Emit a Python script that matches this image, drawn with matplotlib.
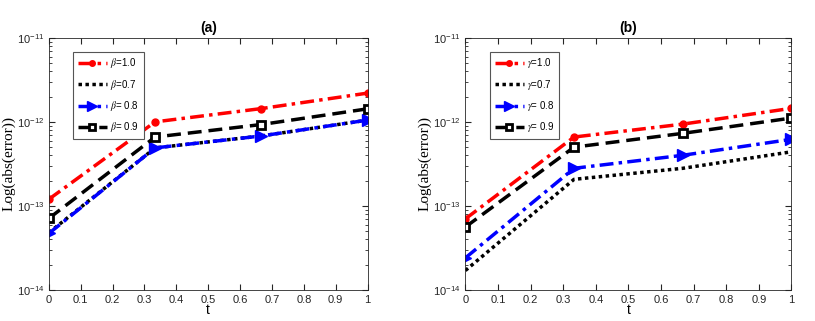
import numpy as np
import matplotlib.pyplot as plt
from matplotlib.ticker import FixedLocator, NullFormatter

t = [0, 1/3, 2/3, 1]

# panel (a): beta
beta_10 = [1.2e-13, 1.0e-12, 1.44e-12, 2.2e-12]
beta_07 = [4.8e-14, 4.9e-13, 6.8e-13, 1.05e-12]
beta_08 = [4.7e-14, 4.9e-13, 6.8e-13, 1.05e-12]
beta_09 = [7.1e-14, 6.6e-13, 9.3e-13, 1.43e-12]

# panel (b): gamma
gamma_10 = [7.0e-14, 6.6e-13, 9.4e-13, 1.45e-12]
gamma_07 = [1.7e-14, 2.07e-13, 2.8e-13, 4.4e-13]
gamma_08 = [2.4e-14, 2.8e-13, 4.0e-13, 6.2e-13]
gamma_09 = [5.6e-14, 5.0e-13, 7.3e-13, 1.11e-12]

xticks = np.round(np.arange(0, 1.01, 0.1), 1)
xticklabels = ['0'] + ['%.1f' % v for v in xticks[1:-1]] + ['1']
yticks = [1e-14, 1e-13, 1e-12, 1e-11]
yminor = [m * d for d in yticks[:-1] for m in range(2, 10)]

plt.rcParams['font.family'] = ['Liberation Sans', 'DejaVu Sans']
plt.rcParams['mathtext.fontset'] = 'stix'

fig = plt.figure(figsize=(8.15, 3.21), dpi=100)
ax1 = fig.add_axes([0.060, 0.097, 0.391, 0.785])
ax2 = fig.add_axes([0.571, 0.097, 0.400, 0.785])


def draw(ax, sym, s10, s07, s08, s09, title):
    ax.plot(t, s10, color='red', ls=(0, (4, 1.5, 1, 1.5)), lw=2.5, marker='o', ms=5,
            label=sym + '=1.0')
    ax.plot(t, s07, color='black', ls=(0, (1, 1)), lw=2.5, label=sym + '=0.7')
    ax.plot(t, s08, color='blue', ls=(0, (4, 1.5, 1, 1.5)), lw=2.5, marker='>', ms=9,
            label=sym + '= 0.8')
    ax.plot(t, s09, color='black', ls=(0, (4, 2)), lw=2.5, marker='s', ms=5.5,
            mfc='white', mew=2, label=sym + '= 0.9')
    ax.set_yscale('log')
    ax.set_ylim(1e-14, 1e-11)
    ax.set_xlim(0, 1)
    ax.set_xticks(xticks)
    ax.set_xticklabels(xticklabels)
    ax.set_yticks(yticks)
    ax.yaxis.set_minor_locator(FixedLocator(yminor))
    ax.yaxis.set_minor_formatter(NullFormatter())
    ax.tick_params(which='both', direction='in', top=True, right=True,
                   labelsize=8, colors='#262626')
    ax.tick_params(which='major', length=4)
    ax.tick_params(which='minor', length=2)
    for sp in ax.spines.values():
        sp.set_color('#262626')
        sp.set_linewidth(0.6)
    ax.set_title(title, fontsize=10, fontweight='bold', pad=4)
    ax.set_xlabel('t', fontsize=10, labelpad=-1)
    ax.set_ylabel('Log(abs(error))', fontsize=11, family='Liberation Serif', labelpad=1)
    leg = ax.legend(loc='upper left', bbox_to_anchor=(0.06, 0.965), fontsize=7,
                    handlelength=3.0, handletextpad=0.3, labelspacing=0.75,
                    borderpad=0.5, markerscale=0.8,
                    fancybox=False, edgecolor='#555555', framealpha=1)
    leg.get_frame().set_linewidth(0.8)


draw(ax1, r'$\beta$', beta_10, beta_07, beta_08, beta_09, '(a)')
draw(ax2, r'$\gamma$', gamma_10, gamma_07, gamma_08, gamma_09, '(b)')

fig.savefig('out.png', dpi=100)
